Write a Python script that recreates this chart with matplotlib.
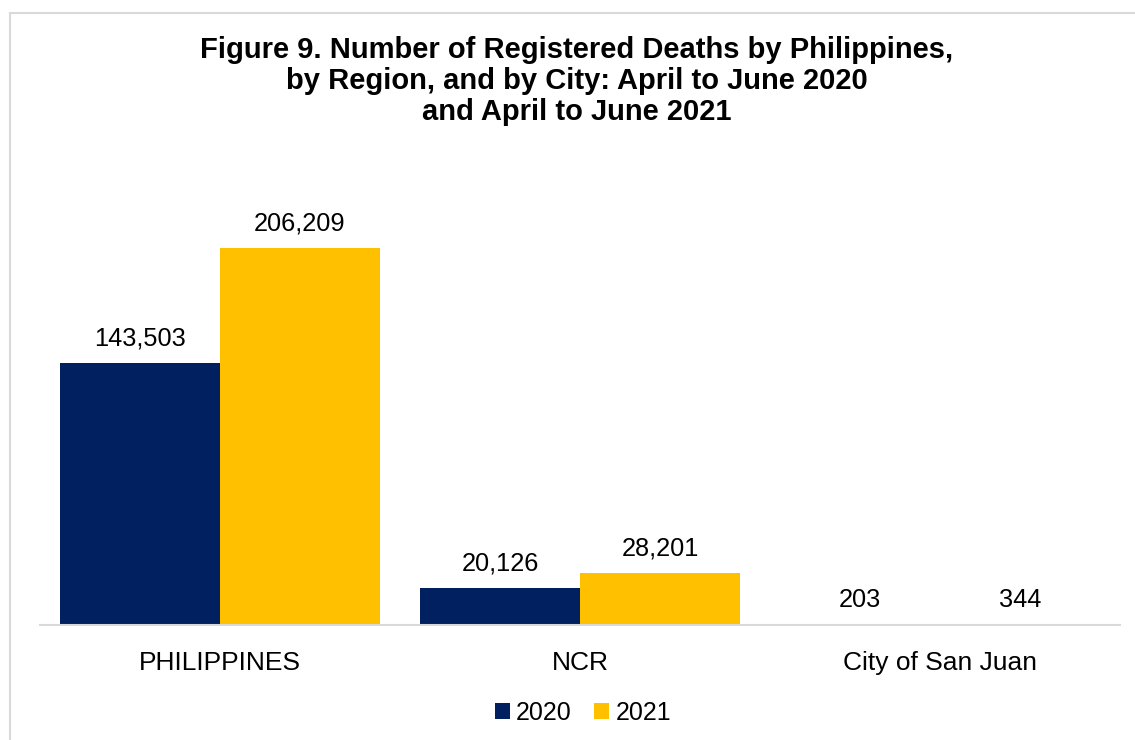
import matplotlib
matplotlib.use("Agg")
import matplotlib.pyplot as plt
import numpy as np
from matplotlib.patches import Rectangle

plt.rcParams['font.family'] = ['Liberation Sans', 'DejaVu Sans']

categories = ['PHILIPPINES', 'NCR', 'City of San Juan']
deaths_2020 = [143503, 20126, 203]
deaths_2021 = [206209, 28201, 344]
series_names = ['2020', '2021']
colors = ['#002060', '#FFC000']

fig = plt.figure(figsize=(11.35, 7.4), dpi=100)

# light grey chart border (top-left visible, rest runs off the picture)
fig.patches.append(Rectangle((10 / 1135, -0.01), 1.05, (740 - 13) / 740 + 0.01,
                             transform=fig.transFigure, fill=False,
                             edgecolor='#D9D9D9', linewidth=1.5))

ax = fig.add_axes([40 / 1135, 115 / 740, 1080 / 1135, 457 / 740])
x = np.arange(len(categories))
w = 160 / 360
b1 = ax.bar(x - w / 2, deaths_2020, w, color=colors[0], label=series_names[0])
b2 = ax.bar(x + w / 2, deaths_2021, w, color=colors[1], label=series_names[1])

for bars in (b1, b2):
    ax.bar_label(bars, labels=[f'{v:,}' for v in bars.datavalues],
                 padding=9, fontsize=18.3)

ax.set_xlim(-0.5, 2.5)
ax.set_ylim(0, 250000)
ax.set_xticks(x)
ax.set_xticklabels(categories, fontsize=19)
ax.tick_params(axis='x', length=0, pad=19)
ax.set_yticks([])
for s in ['top', 'right', 'left']:
    ax.spines[s].set_visible(False)
ax.spines['bottom'].set_color('#D9D9D9')
ax.spines['bottom'].set_linewidth(1.5)

fig.text(577 / 1135, 1 - 81 / 740,
         'Figure 9. Number of Registered Deaths by Philippines,\n'
         'by Region, and by City: April to June 2020\n'
         'and April to June 2021',
         ha='center', va='center', fontsize=21, fontweight='bold',
         linespacing=1.13)

ax.legend(loc='center', bbox_to_anchor=(583 / 1135, 1 - 713 / 740),
          bbox_transform=fig.transFigure, ncol=2, frameon=False,
          fontsize=18, handlelength=0.6, handleheight=0.6,
          handletextpad=0.25, columnspacing=0.9)

fig.savefig('out.png', dpi=100)
